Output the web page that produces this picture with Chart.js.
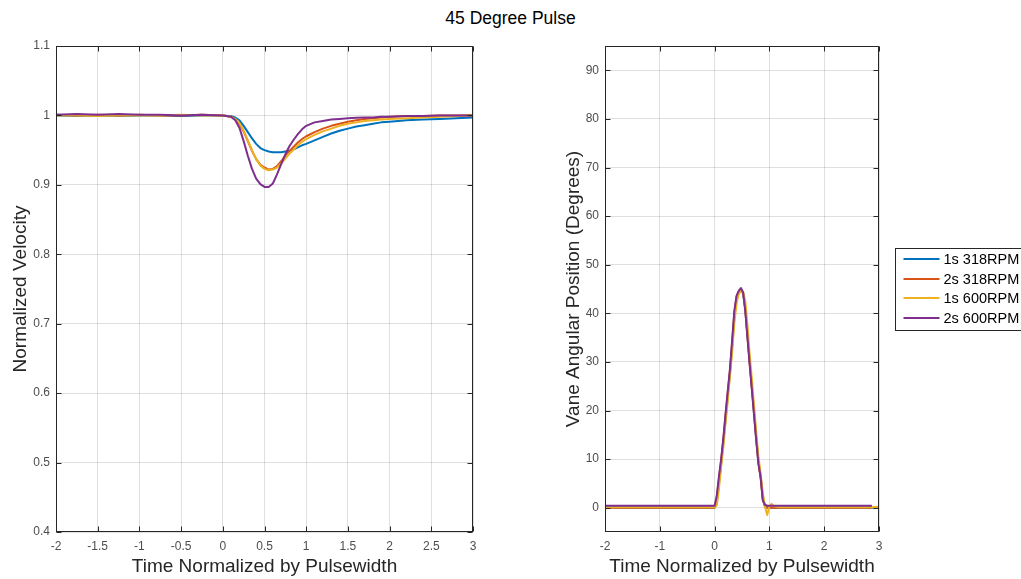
<!DOCTYPE html>
<html><head><meta charset="utf-8">
<script src="https://cdn.jsdelivr.net/npm/chart.js@4.4.1/dist/chart.umd.min.js"></script>
<style>
html,body{margin:0;padding:0;background:#fff;overflow:hidden;width:1021px;height:579px}
#title{position:absolute;left:0;top:7px;width:1021px;text-align:center;font:17.5px 'Liberation Sans',Arial,sans-serif;color:#000;line-height:22px}
canvas{position:absolute;top:0}
#c1{left:0}
#c2{left:550px}
</style></head><body>
<div id="title">45 Degree Pulse</div>
<canvas id="c1" width="490" height="579"></canvas>
<canvas id="c2" width="471" height="579"></canvas>
<script>
// ---------- data ----------
const seriesLabels = ['1s 318RPM', '2s 318RPM', '1s 600RPM', '2s 600RPM'];
const seriesColors = ['#0072BD', '#D95319', '#EDB120', '#7E2F8E'];

const xTicksLeft = [-2, -1.5, -1, -0.5, 0, 0.5, 1, 1.5, 2, 2.5, 3];
const yTicksLeft = [0.4, 0.5, 0.6, 0.7, 0.8, 0.9, 1, 1.1];
const xTicksRight = [-2, -1, 0, 1, 2, 3];
const yTicksRight = [0, 10, 20, 30, 40, 50, 60, 70, 80, 90];

const timeL = [-2, -1.75, -1.5, -1.25, -1, -0.75, -0.5, -0.25, 0,
  0.1, 0.15, 0.2, 0.25, 0.3, 0.35, 0.4, 0.45, 0.5, 0.55, 0.6, 0.65, 0.7, 0.75, 0.8, 0.85, 0.9, 0.95,
  1.0, 1.1, 1.2, 1.3, 1.4, 1.5, 1.6, 1.7, 1.8, 1.9, 2.0, 2.2, 2.4, 2.6, 2.8, 3.0];

const velBlue = [1.000, 0.999, 1.000, 0.999, 1.000, 1.000, 0.999, 1.000, 1.000,
  0.999, 0.997, 0.993, 0.985, 0.976, 0.967, 0.959, 0.953, 0.950, 0.948, 0.947, 0.947, 0.947, 0.948, 0.949, 0.951, 0.954, 0.957,
  0.959, 0.964, 0.969, 0.974, 0.978, 0.981, 0.984, 0.986, 0.988, 0.990, 0.991, 0.993, 0.994, 0.995, 0.996, 0.997];
const velOrange = [1.001, 1.000, 1.001, 1.000, 1.001, 1.000, 1.000, 1.001, 1.000,
  0.998, 0.994, 0.988, 0.977, 0.963, 0.949, 0.937, 0.929, 0.925, 0.922, 0.923, 0.927, 0.934, 0.942, 0.949, 0.955, 0.961, 0.966,
  0.970, 0.976, 0.981, 0.985, 0.988, 0.991, 0.993, 0.995, 0.996, 0.997, 0.998, 0.999, 0.999, 1.000, 1.000, 1.000];
const velYellow = [1.000, 1.000, 0.999, 1.000, 1.000, 1.000, 1.001, 1.000, 1.000,
  0.998, 0.995, 0.989, 0.978, 0.964, 0.950, 0.937, 0.928, 0.923, 0.921, 0.922, 0.925, 0.931, 0.938, 0.945, 0.951, 0.957, 0.962,
  0.966, 0.972, 0.977, 0.981, 0.985, 0.988, 0.990, 0.992, 0.993, 0.994, 0.995, 0.996, 0.997, 0.998, 0.999, 1.001];
const velPurple = [1.001, 1.002, 1.001, 1.002, 1.001, 1.001, 1.000, 1.001, 1.000,
  0.998, 0.993, 0.982, 0.963, 0.942, 0.923, 0.909, 0.901, 0.897, 0.897, 0.902, 0.915, 0.930, 0.944, 0.956, 0.965, 0.973, 0.980,
  0.985, 0.990, 0.992, 0.994, 0.995, 0.996, 0.9965, 0.997, 0.997, 0.998, 0.998, 0.999, 0.999, 1.000, 1.000, 1.000];

const timeR = [-2, -1, 0,
  0.04, 0.08, 0.12, 0.16, 0.2, 0.24, 0.28, 0.32, 0.36, 0.4, 0.44, 0.48, 0.52, 0.56, 0.6, 0.64, 0.68, 0.72, 0.76, 0.8, 0.84, 0.88, 0.92, 0.96,
  1.0, 1.04, 1.08, 1.2, 2, 2.87, 3];

const angBlue = [0, 0, 0,
  1, 5, 9, 13.5, 18, 23, 27.5, 33, 39, 42.8, 44.2, 44.7, 44.2, 41, 35.5, 30, 25, 19.8, 14.5, 9.5, 6.5, 2, 0.2, 0,
  0, 0, 0, 0, 0, 0, 0];
const angOrange = [0, 0, 0,
  2, 6, 9.8, 14, 19, 23.6, 28.2, 34, 40, 43.4, 44.5, 45, 44.2, 40.8, 35.2, 29.8, 24.6, 19.4, 14, 9.2, 6.2, 1.6, 0.2, 0,
  0, 0, 0, 0, 0, 0, null];
const angYellow = [0.1, 0.1, 0.1,
  0.5, 4, 8.5, 12.5, 17.5, 22, 27, 32, 38, 42, 44, 44.6, 44.5, 42.5, 37.5, 31.5, 26.5, 21, 15.5, 10.5, 7, 3, 0.2, -1.5,
  0.2, 0.8, 0.3, 0.1, 0.1, 0.1, 0.2];
const angPurple = [0.4, 0.4, 0.4,
  2.5, 6.5, 10, 14.3, 19.3, 24, 28.5, 34.4, 40.5, 43.6, 44.6, 45.2, 44.3, 40.5, 35, 29.5, 24.3, 19, 13.8, 9, 6.3, 1.5, 0.6, 0.4,
  0.4, 0.4, 0.4, 0.4, 0.4, 0.4, null];

// ---------- styling ----------
const FONT = "'Liberation Sans', Arial, sans-serif";
const GRID = 'rgba(38,38,38,0.15)';
const AXIS = '#262626';
const TICKC = '#4d4d4d';

function makeDatasets(t, arrays) {
  return arrays.map((vals, i) => ({
    label: seriesLabels[i],
    borderColor: seriesColors[i],
    backgroundColor: seriesColors[i],
    borderWidth: 2,
    pointRadius: 0,
    tension: 0,
    fill: false,
    borderJoinStyle: 'round',
    order: arrays.length - i,
    data: t.map((x, k) => ({ x: x, y: vals[k] }))
  }));
}

function makeScales(o) {
  return {
    x: {
      type: 'linear', min: o.xMin, max: o.xMax,
      afterBuildTicks: s => { s.ticks = o.xTicks.map(v => ({ value: v })); },
      afterFit: s => { s.height = 47; },
      grid: { color: GRID, drawTicks: false, lineWidth: 1 },
      border: { display: false },
      ticks: { padding: 7, color: TICKC, font: { family: FONT, size: 12 }, autoSkip: false, maxRotation: 0, callback: v => String(v) },
      title: { display: true, text: 'Time Normalized by Pulsewidth', color: AXIS, font: { family: FONT, size: 19 }, padding: { top: 0, bottom: 1 } }
    },
    y: {
      type: 'linear', min: o.yMin, max: o.yMax,
      afterBuildTicks: s => { s.ticks = o.yTicks.map(v => ({ value: v })); },
      afterFit: s => { s.width = o.yWidth; },
      grid: { color: GRID, drawTicks: false, lineWidth: 1 },
      border: { display: false },
      ticks: { padding: 6, color: TICKC, font: { family: FONT, size: 12 }, autoSkip: false, callback: v => String(v) },
      title: { display: true, text: o.yTitle, color: AXIS, font: { family: FONT, size: 19 }, padding: { top: o.yTitlePad, bottom: 0 } }
    }
  };
}

const boxPlugin = {
  id: 'matlabBox',
  afterDraw(chart) {
    const { ctx, chartArea: a } = chart;
    const x = chart.scales.x, y = chart.scales.y;
    const L = Math.round(a.left) + 0.5, R = Math.round(a.right) - 0.5;
    const T = Math.round(a.top) + 0.5, B = Math.round(a.bottom) - 0.5;
    ctx.save();
    ctx.strokeStyle = AXIS;
    ctx.lineWidth = 1;
    ctx.beginPath();
    x.ticks.forEach(t => {
      const p = Math.round(x.getPixelForValue(t.value)) + 0.5;
      ctx.moveTo(p, B); ctx.lineTo(p, B - 5);
      ctx.moveTo(p, T); ctx.lineTo(p, T + 5);
    });
    y.ticks.forEach(t => {
      const p = Math.round(y.getPixelForValue(t.value)) + 0.5;
      ctx.moveTo(L, p); ctx.lineTo(L + 5, p);
      ctx.moveTo(R, p); ctx.lineTo(R - 5, p);
    });
    ctx.stroke();
    ctx.strokeRect(L, T, R - L, B - T);
    ctx.restore();
  }
};

const legendPlugin = {
  id: 'boxLegend',
  afterDraw(chart) {
    const { ctx, chartArea: a } = chart;
    const cy = (a.top + a.bottom) / 2;
    const left = Math.round(a.right) + 16.5;
    const top = Math.round(cy - 41) + 0.5;
    ctx.save();
    ctx.fillStyle = '#fff';
    ctx.fillRect(left, top, 200, 82);
    ctx.strokeStyle = AXIS;
    ctx.lineWidth = 1;
    ctx.strokeRect(left, top, 200, 82);
    ctx.font = '14.5px ' + FONT;
    ctx.textBaseline = 'middle';
    ctx.textAlign = 'left';
    chart.data.datasets.forEach((d, i) => {
      const yy = Math.round(top + 10.5 + i * 19.7);
      ctx.strokeStyle = d.borderColor;
      ctx.lineWidth = 2;
      ctx.beginPath();
      ctx.moveTo(left + 8, yy); ctx.lineTo(left + 44, yy);
      ctx.stroke();
      ctx.fillStyle = '#000';
      ctx.fillText(d.label, left + 48, yy + 1);
    });
    ctx.restore();
  }
};

const common = {
  responsive: false,
  animation: false,
  devicePixelRatio: 1,
  plugins: { legend: { display: false }, tooltip: { enabled: false } },
  elements: { line: { capBezierPoints: false } }
};

new Chart(document.getElementById('c1'), {
  type: 'line',
  data: { datasets: makeDatasets(timeL, [velBlue, velOrange, velYellow, velPurple]) },
  options: Object.assign({}, common, {
    layout: { padding: { top: 46, right: 17, left: 0, bottom: 0 } },
    scales: makeScales({ xMin: -2, xMax: 3, xTicks: xTicksLeft, yMin: 0.4, yMax: 1.1, yTicks: yTicksLeft,
      yTitle: 'Normalized Velocity', yTitlePad: 9, yWidth: 56 })
  }),
  plugins: [boxPlugin]
});

new Chart(document.getElementById('c2'), {
  type: 'line',
  data: { datasets: makeDatasets(timeR, [angBlue, angOrange, angYellow, angPurple]) },
  options: Object.assign({}, common, {
    layout: { padding: { top: 46, right: 142, left: 0, bottom: 0 } },
    scales: makeScales({ xMin: -2, xMax: 3, xTicks: xTicksRight, yMin: -5, yMax: 95, yTicks: yTicksRight,
      yTitle: 'Vane Angular Position (Degrees)', yTitlePad: 12, yWidth: 55 })
  }),
  plugins: [boxPlugin, legendPlugin]
});
</script></body></html>
